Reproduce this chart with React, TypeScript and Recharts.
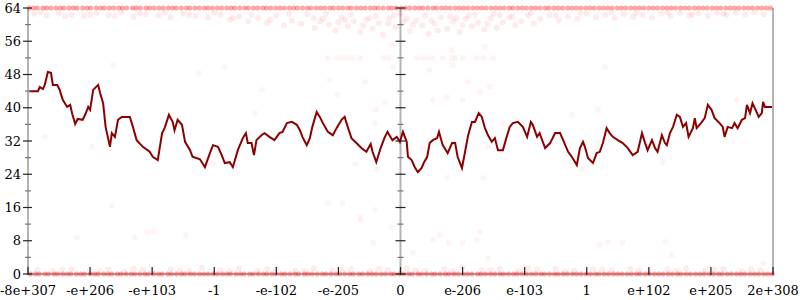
import { ComposedChart, Line, Scatter, XAxis, YAxis, ReferenceLine } from 'recharts';

const X_LABELS = ['-8e+307', '-e+206', '-e+103', '-1', '-e-102', '-e-205', '0', 'e-206', 'e-103', '1', 'e+102', 'e+205', '2e+308'];
const X_TICKS = [0, 1, 2, 3, 4, 5, 6, 7, 8, 9, 10, 11, 12];
const Y_TICKS = [0, 4, 8, 12, 16, 20, 24, 28, 32, 36, 40, 44, 48, 52, 56, 60, 64];

// averaged error line
const LINE_X = [
  0.0, 0.16, 0.19, 0.24, 0.27, 0.32, 0.37, 0.4, 0.47, 0.51, 0.56, 0.63, 0.68, 0.71, 0.76, 0.8, 0.88, 0.92, 0.97, 1.0,
  1.05, 1.13, 1.16, 1.21, 1.25, 1.32, 1.35, 1.4, 1.45, 1.51, 1.64, 1.69, 1.75, 1.85, 1.96, 2.01, 2.09, 2.16, 2.2, 2.27,
  2.33, 2.36, 2.41, 2.48, 2.53, 2.61, 2.65, 2.77, 2.85, 2.93, 2.98, 3.06, 3.12, 3.17, 3.25, 3.3, 3.38, 3.46, 3.51, 3.54,
  3.6, 3.64, 3.68, 3.76, 3.81, 3.89, 3.97, 4.05, 4.1, 4.17, 4.25, 4.33, 4.38, 4.42, 4.49, 4.54, 4.58, 4.65, 4.7, 4.75,
  4.83, 4.91, 4.97, 5.05, 5.1, 5.15, 5.21, 5.29, 5.37, 5.45, 5.52, 5.55, 5.61, 5.68, 5.74, 5.79, 5.87, 5.94, 5.99, 6.04,
  6.1, 6.12, 6.18, 6.23, 6.28, 6.34, 6.38, 6.43, 6.47, 6.52, 6.59, 6.62, 6.68, 6.76, 6.83, 6.88, 6.92, 6.99, 7.04, 7.09,
  7.15, 7.2, 7.26, 7.31, 7.36, 7.41, 7.47, 7.52, 7.57, 7.65, 7.71, 7.76, 7.81, 7.89, 7.97, 8.04, 8.1, 8.13, 8.2, 8.24,
  8.33, 8.41, 8.49, 8.57, 8.62, 8.7, 8.76, 8.84, 8.89, 8.94, 8.97, 9.02, 9.1, 9.16, 9.21, 9.26, 9.32, 9.37, 9.42, 9.5,
  9.58, 9.66, 9.74, 9.82, 9.89, 9.94, 9.98, 10.05, 10.1, 10.14, 10.21, 10.26, 10.29, 10.34, 10.39, 10.45, 10.5, 10.55, 10.6, 10.64,
  10.71, 10.74, 10.77, 10.84, 10.9, 10.95, 11.01, 11.06, 11.14, 11.19, 11.22, 11.27, 11.34, 11.38, 11.43, 11.5, 11.55, 11.58, 11.63, 11.67,
  11.72, 11.77, 11.82, 11.84, 11.87, 12.0,
];
const LINE_Y = [
  44.0, 44.0, 45.0, 44.5, 45.5, 48.6, 48.4, 45.5, 45.5, 44.3, 41.9, 40.2, 40.7, 38.7, 36.1, 37.3, 37.1, 38.3, 40.2, 39.5,
  44.3, 45.5, 43.6, 41.1, 35.4, 30.6, 33.9, 33.0, 37.1, 37.8, 37.8, 35.4, 32.2, 30.6, 29.4, 28.2, 27.4, 33.9, 35.1, 38.3,
  36.6, 34.6, 37.1, 35.9, 31.8, 29.8, 28.2, 27.6, 25.7, 29.1, 31.0, 30.6, 28.6, 26.7, 26.9, 25.7, 29.8, 32.7, 33.9, 31.5,
  31.5, 28.6, 32.2, 33.4, 33.9, 33.0, 32.2, 33.9, 34.2, 36.3, 36.6, 35.9, 34.6, 33.0, 31.0, 32.7, 35.4, 39.0, 37.8, 36.3,
  34.2, 33.4, 35.1, 37.1, 37.8, 35.4, 32.7, 31.5, 30.3, 29.4, 31.3, 29.4, 26.9, 30.3, 32.7, 34.2, 32.2, 33.0, 31.8, 34.2,
  31.8, 28.2, 27.4, 25.7, 24.5, 25.5, 26.9, 28.2, 31.5, 32.2, 32.7, 34.2, 31.0, 29.1, 31.5, 31.5, 28.2, 25.5, 29.4, 33.4,
  36.6, 36.6, 38.7, 37.8, 35.1, 33.4, 31.8, 32.7, 29.8, 29.8, 33.0, 35.4, 36.3, 36.6, 35.4, 33.0, 36.6, 35.9, 33.0, 33.9,
  30.3, 31.5, 33.9, 33.9, 32.2, 29.4, 28.2, 26.2, 30.3, 31.8, 30.6, 27.9, 26.7, 29.1, 29.4, 31.5, 35.1, 33.9, 33.0, 32.2,
  31.5, 30.3, 28.6, 29.4, 33.9, 31.5, 29.8, 32.2, 30.3, 29.4, 33.4, 31.5, 31.0, 33.9, 35.4, 38.3, 37.8, 35.4, 36.3, 33.0,
  35.1, 37.5, 35.1, 36.3, 37.5, 40.7, 39.5, 37.5, 36.3, 35.4, 33.0, 35.4, 35.1, 36.3, 35.1, 37.1, 37.5, 40.7, 38.7, 41.1,
  39.5, 37.8, 38.7, 41.4, 40.2, 40.2,
];

// samples sitting exactly on the 64 and 0 edges
const EDGE_TOP_X = [
  0.02, 0.09, 0.15, 0.24, 0.3, 0.37, 0.45, 0.52, 0.58, 0.66, 0.73, 0.79, 0.88, 0.95, 1.01, 1.1, 1.17, 1.23, 1.31, 1.38,
  1.46, 1.52, 1.59, 1.68, 1.74, 1.81, 1.9, 1.96, 2.03, 2.11, 2.18, 2.26, 2.33, 2.39, 2.47, 2.55, 2.61, 2.69, 2.76, 2.84,
  2.9, 2.97, 3.05, 3.12, 3.2, 3.27, 3.33, 3.41, 3.49, 3.55, 3.63, 3.7, 3.78, 3.84, 3.91, 3.99, 4.06, 4.13, 4.21, 4.28,
  4.34, 4.42, 4.5, 4.56, 4.64, 4.71, 4.78, 4.86, 4.92, 5.0, 5.07, 5.15, 5.21, 5.29, 5.36, 5.43, 5.51, 5.58, 5.64, 5.72,
  5.8, 5.86, 5.93, 6.01, 6.08, 6.15, 6.23, 6.3, 6.36, 6.44, 6.52, 6.58, 6.66, 6.73, 6.8, 6.88, 6.95, 7.02, 7.09, 7.17,
  7.24, 7.31, 7.38, 7.46, 7.53, 7.6, 7.67, 7.75, 7.81, 7.89, 7.96, 8.03, 8.11, 8.18, 8.25, 8.33, 8.39, 8.47, 8.54, 8.61,
  8.69, 8.76, 8.83, 8.9, 8.98, 9.05, 9.12, 9.2, 9.27, 9.34, 9.41, 9.49, 9.56, 9.63, 9.71, 9.78, 9.85, 9.92, 10.0, 10.07,
  10.14, 10.22, 10.29, 10.36, 10.43, 10.51, 10.58, 10.65, 10.73, 10.8, 10.87, 10.94, 11.02, 11.09, 11.16, 11.24, 11.31, 11.38, 11.45, 11.53,
  11.6, 11.67, 11.75, 11.82, 11.89, 11.96,
];
const EDGE_BOTTOM_X = [
  0.04, 0.12, 0.18, 0.27, 0.33, 0.42, 0.48, 0.56, 0.63, 0.69, 0.78, 0.85, 0.91, 1.0, 1.07, 1.13, 1.22, 1.29, 1.35, 1.44,
  1.5, 1.58, 1.66, 1.72, 1.8, 1.88, 1.94, 2.02, 2.1, 2.16, 2.25, 2.31, 2.39, 2.47, 2.53, 2.61, 2.68, 2.76, 2.83, 2.9,
  2.98, 3.05, 3.13, 3.2, 3.26, 3.35, 3.42, 3.48, 3.57, 3.63, 3.71, 3.79, 3.85, 3.93, 4.0, 4.08, 4.14, 4.22, 4.3, 4.36,
  4.45, 4.51, 4.58, 4.66, 4.74, 4.8, 4.88, 4.96, 5.02, 5.1, 5.18, 5.24, 5.33, 5.39, 5.47, 5.54, 5.61, 5.69, 5.76, 5.84,
  5.9, 5.98, 6.05, 6.13, 6.19, 6.28, 6.34, 6.42, 6.5, 6.56, 6.64, 6.72, 6.78, 6.86, 6.93, 7.01, 7.08, 7.15, 7.24, 7.3,
  7.37, 7.45, 7.52, 7.6, 7.66, 7.74, 7.82, 7.88, 7.96, 8.03, 8.11, 8.18, 8.26, 8.32, 8.4, 8.48, 8.54, 8.62, 8.69, 8.77,
  8.84, 8.91, 8.99, 9.06, 9.14, 9.2, 9.28, 9.35, 9.43, 9.5, 9.57, 9.65, 9.72, 9.8, 9.86, 9.94, 10.01, 10.09, 10.16, 10.23,
  10.31, 10.38, 10.46, 10.52, 10.6, 10.67, 10.75, 10.82, 10.89, 10.97, 11.04, 11.12, 11.18, 11.26, 11.33, 11.41, 11.48, 11.55, 11.63, 11.7,
  11.77, 11.85, 11.92, 11.99,
];

// samples spread just below 64
const NEAR_TOP: [number, number][] = [
  [0.1, 62.6], [0.3, 62.2], [0.5, 62.8], [0.7, 62.4], [0.9, 62.0], [1.1, 62.7], [1.3, 62.3], [1.5, 62.9], [1.7, 61.9], [1.9, 62.5],
  [2.1, 62.2], [2.3, 61.8], [2.5, 62.6], [2.7, 62.1], [2.9, 61.7], [3.1, 62.4], [3.25, 61.2], [3.4, 62.0], [3.55, 60.8], [3.7, 61.6],
  [3.85, 60.4], [4.0, 62.2], [4.12, 59.8], [4.25, 61.0], [4.4, 60.2], [4.5, 62.5], [4.62, 59.2], [4.75, 61.4], [4.85, 60.0], [4.95, 58.6],
  [5.05, 61.8], [5.15, 59.6], [5.25, 60.8], [5.35, 58.2], [5.45, 61.2], [5.55, 59.0], [5.65, 60.4], [5.72, 57.6], [5.82, 61.6], [5.92, 59.4],
  [6.05, 60.6], [6.15, 58.4], [6.25, 61.0], [6.35, 59.8], [6.45, 57.8], [6.55, 60.2], [6.65, 61.8], [6.75, 59.0], [6.85, 60.8], [6.95, 58.2],
  [7.05, 61.4], [7.15, 59.6], [7.25, 60.4], [7.35, 58.8], [7.45, 61.6], [7.55, 59.2], [7.65, 60.6], [7.75, 61.8], [7.85, 59.8], [7.95, 60.8],
  [8.05, 62.2], [8.15, 60.2], [8.25, 61.4], [8.4, 62.4], [8.55, 61.0], [8.7, 62.0], [8.85, 61.4], [9.0, 62.6], [9.15, 61.8], [9.3, 62.3],
  [9.45, 61.6], [9.6, 62.5], [9.75, 61.9], [9.9, 62.4], [10.05, 61.7], [10.2, 62.6], [10.35, 62.0], [10.5, 62.8], [10.65, 62.2], [10.8, 62.7],
  [10.95, 62.1], [11.1, 62.8], [11.25, 62.3], [11.4, 62.9], [11.55, 62.4], [11.7, 62.9], [11.85, 62.5],
  [4.6, 61.6], [4.8, 62.6], [5.0, 60.6], [5.2, 62.4], [5.4, 59.8], [5.6, 62.0], [5.8, 60.2], [6.0, 62.6], [6.2, 60.0], [6.4, 62.2],
  [6.6, 58.6], [6.8, 62.0], [7.0, 60.0], [7.2, 62.4], [7.4, 60.2], [7.6, 62.2],
  [0.2, 63.0], [0.6, 62.0], [1.0, 62.4], [1.4, 62.1], [1.8, 62.7], [2.2, 62.9], [2.6, 62.3], [3.0, 62.8], [3.3, 61.6], [3.6, 62.3],
  [3.9, 61.2], [4.2, 62.6], [4.7, 60.8], [5.1, 61.2], [5.5, 61.6], [5.9, 62.2], [6.1, 61.4], [6.5, 61.0], [6.9, 61.6], [7.1, 62.2],
  [7.5, 62.6], [7.8, 62.0], [8.1, 62.8], [8.5, 62.2], [8.9, 62.7], [9.4, 62.9], [9.8, 62.8], [10.3, 62.9], [10.7, 62.4], [11.2, 62.6],
];
const ROW_52_X = [4.83, 4.98, 5.06, 5.14, 5.23, 5.35, 5.72, 5.8, 6.26, 6.36, 6.44, 6.52, 6.68, 6.83, 6.88, 7.0, 7.23, 7.33, 7.49];

// samples spread just above 0
const NEAR_BOTTOM: [number, number][] = [
  [0.15, 1.0], [0.4, 0.6], [0.7, 1.2], [1.0, 0.8], [1.3, 1.1], [1.55, 0.5], [1.7, 1.3], [2.0, 0.9], [2.3, 1.2], [2.6, 0.6],
  [2.8, 1.5], [3.1, 1.0], [3.4, 1.3], [3.7, 0.7], [4.0, 1.1], [4.3, 0.8], [4.6, 1.4], [4.9, 0.9], [5.2, 1.2], [5.5, 0.6],
  [5.8, 1.0], [6.1, 1.3], [6.4, 0.8], [6.7, 1.2], [7.0, 1.6], [7.3, 0.9], [7.6, 1.2], [7.9, 0.7], [8.2, 1.1], [8.5, 1.3],
  [8.8, 0.8], [9.1, 1.2], [9.4, 0.9], [9.7, 1.3], [10.0, 0.7], [10.3, 1.1], [10.6, 1.4], [10.9, 0.8], [11.2, 1.2], [11.5, 0.6],
  [11.8, 1.0], [0.55, 1.1], [1.15, 0.7], [1.85, 1.0], [2.45, 0.8], [3.25, 0.6], [3.85, 1.2], [4.45, 0.7], [5.05, 1.0], [5.65, 1.3],
  [6.25, 0.9], [6.85, 0.6], [7.45, 1.0], [8.05, 1.3], [8.65, 0.6], [9.25, 1.0], [9.85, 0.9], [10.45, 0.7], [11.05, 1.0], [11.65, 1.2],
];

// scattered samples in the middle of the range
const SPARSE: [number, number][] = [
  [1.37, 50.3], [2.75, 48.4], [9.29, 49.8], [0.27, 33.0], [1.03, 30.6], [3.17, 49.8], [3.77, 44.3], [3.66, 38.7], [4.98, 43.1], [2.98, 26.7],
  [5.59, 36.3], [5.27, 26.5], [5.75, 41.4], [5.6, 39.5], [5.62, 25.0], [6.52, 41.9], [6.75, 42.6], [7.0, 41.9], [7.28, 43.8], [7.65, 36.3],
  [8.76, 38.3], [7.41, 30.6], [6.36, 30.3], [8.92, 25.0], [6.75, 23.1], [7.33, 23.1], [9.18, 39.5], [11.42, 41.9], [10.23, 26.9],
  [4.86, 46.7], [5.43, 46.2], [6.47, 49.1], [7.09, 46.2], [6.83, 53.9], [6.84, 50.3], [7.36, 54.6], [7.44, 45.0], [5.86, 55.1], [5.88, 49.8],
  [0.79, 8.7], [1.35, 16.4], [1.72, 8.7], [1.92, 10.1], [2.01, 10.3], [2.54, 9.4], [4.83, 17.1], [5.07, 17.1], [5.35, 13.7], [5.36, 13.0],
  [5.59, 15.4], [5.86, 11.3], [5.56, 7.5], [6.2, 5.1], [6.52, 8.2], [6.63, 9.4], [6.78, 7.5], [7.0, 7.5], [7.23, 8.2], [7.28, 10.1],
  [7.41, 3.8], [9.34, 7.7], [9.58, 7.5], [10.26, 7.7], [10.37, 4.6], [11.84, 2.6], [9.21, 7.0],
];

const lineData = LINE_X.map((x, i) => ({ x, y: LINE_Y[i] }));
const edgeData = [...EDGE_TOP_X.map((x) => ({ x, y: 64 })), ...EDGE_BOTTOM_X.map((x) => ({ x, y: 0 }))];
const bandData = [...NEAR_TOP.map(([x, y]) => ({ x, y })), ...NEAR_BOTTOM.map(([x, y]) => ({ x, y }))];
const sparseData = [...ROW_52_X.map((x) => ({ x, y: 52 })), ...SPARSE.map(([x, y]) => ({ x, y }))];

const FONT = 'DejaVu Serif';
const PLOT_LEFT = 28;
const PLOT_RIGHT = 773;
const PLOT_BOTTOM = 274;
const CENTER = (PLOT_LEFT + PLOT_RIGHT) / 2;
const AXIS_GRAY = '#b4b4b4';

function LeftTick(props: any) {
  const { y, payload } = props;
  const major = payload.value % 8 === 0;
  const half = major ? 5 : 3;
  const col = major ? '#222' : '#777';
  return (
    <g>
      <line x1={PLOT_LEFT - half} x2={PLOT_LEFT + (major ? 4 : 3)} y1={y} y2={y} stroke={col} strokeWidth={1.2} />
      <line x1={CENTER - half} x2={CENTER + half} y1={y} y2={y} stroke={col} strokeWidth={1.2} />
      {major && (
        <text x={PLOT_LEFT - 7} y={y} textAnchor="end" dominantBaseline="central" fontFamily={FONT} fontSize={13} fill="#000">
          {payload.value}
        </text>
      )}
    </g>
  );
}

function RightTick(props: any) {
  const { y, payload } = props;
  const major = payload.value % 8 === 0;
  const half = major ? 5 : 3;
  return (
    <line x1={PLOT_RIGHT - half} x2={PLOT_RIGHT + half} y1={y} y2={y} stroke={major ? '#222' : '#777'} strokeWidth={1.2} />
  );
}

function BottomTick(props: any) {
  const { x, payload } = props;
  return (
    <g>
      <line x1={x} x2={x} y1={PLOT_BOTTOM + 1} y2={PLOT_BOTTOM - 7} stroke="#222" strokeWidth={1.2} />
      <text x={x} y={295} textAnchor="middle" fontFamily={FONT} fontSize={13} fill="#000">
        {X_LABELS[payload.value]}
      </text>
    </g>
  );
}

const dotShape = (opacity: number, r = 3) => (p: any) => (
  <circle cx={p.cx} cy={p.cy} r={r} fill="#ff0000" fillOpacity={opacity} />
);

export default function App() {
  return (
    <div style={{ position: 'absolute', left: 0, top: 0, width: 800, height: 300, background: '#fff' }}>
      <ComposedChart width={800} height={300} margin={{ top: 8, right: 0, bottom: 0, left: 0 }}>
        <XAxis
          dataKey="x"
          type="number"
          domain={[0, 12]}
          ticks={X_TICKS}
          interval={0}
          height={26}
          axisLine={{ stroke: AXIS_GRAY, strokeWidth: 2 }}
          tickLine={false}
          tick={<BottomTick />}
        />
        <YAxis
          yAxisId="l"
          dataKey="y"
          type="number"
          domain={[0, 64]}
          ticks={Y_TICKS}
          interval={0}
          width={28}
          axisLine={{ stroke: AXIS_GRAY, strokeWidth: 2 }}
          tickLine={false}
          tick={<LeftTick />}
        />
        <YAxis
          yAxisId="r"
          orientation="right"
          type="number"
          domain={[0, 64]}
          ticks={Y_TICKS}
          interval={0}
          width={27}
          axisLine={{ stroke: AXIS_GRAY, strokeWidth: 2 }}
          tickLine={false}
          tick={<RightTick />}
        />
        <ReferenceLine yAxisId="l" x={6} stroke={AXIS_GRAY} strokeWidth={2} />
        <Scatter yAxisId="l" data={edgeData} shape={dotShape(0.35, 2.5)} isAnimationActive={false} />
        <Scatter yAxisId="l" data={bandData} shape={dotShape(0.08)} isAnimationActive={false} />
        <Scatter yAxisId="l" data={sparseData} shape={dotShape(0.045)} isAnimationActive={false} />
        <Line
          yAxisId="l"
          data={lineData}
          dataKey="y"
          type="linear"
          stroke="#8b0000"
          strokeWidth={2}
          dot={false}
          isAnimationActive={false}
        />
      </ComposedChart>
    </div>
  );
}
